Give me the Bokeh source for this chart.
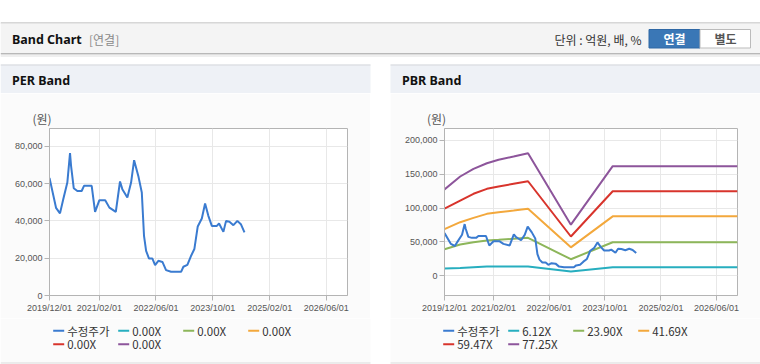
import pandas as pd
from bokeh.plotting import figure
from bokeh.models import (Range1d, FixedTicker, DatetimeTickFormatter, Spacer,
                          NumeralTickFormatter)
from bokeh.layouts import column, row
from bokeh.embed import file_html
from bokeh.resources import INLINE
from bokeh.core.properties import value

# ---------------- data ----------------
price_dates = ["2019-12-01", "2020-01-26", "2020-02-29", "2020-03-28", "2020-05-02", "2020-05-25",
               "2020-06-03", "2020-06-26", "2020-07-27", "2020-09-02", "2020-09-22", "2020-11-27",
               "2020-12-26", "2021-02-01", "2021-03-23", "2021-04-28", "2021-06-22", "2021-07-28",
               "2021-08-17", "2021-09-29", "2021-10-31", "2021-11-26", "2022-01-01", "2022-01-31",
               "2022-02-19", "2022-03-09", "2022-04-03", "2022-05-02", "2022-05-25", "2022-06-22",
               "2022-07-27", "2022-08-27", "2022-10-09", "2023-01-03", "2023-01-23", "2023-02-26",
               "2023-03-27", "2023-04-27", "2023-05-26", "2023-06-30", "2023-07-28", "2023-08-25",
               "2023-09-24", "2023-11-06", "2023-11-25", "2024-01-01", "2024-01-24", "2024-02-22",
               "2024-03-27", "2024-04-30", "2024-05-30", "2024-06-30"]
price_values = [63000, 47000, 44000, 51600, 60500, 76300,
                69500, 57500, 56000, 56000, 58800, 58800,
                44800, 51100, 51100, 47100, 44800, 61100,
                57000, 52500, 60500, 72500, 64100, 55200,
                32000, 23900, 19800, 19800, 16300, 18600,
                18000, 13600, 12700, 12700, 15400, 16400,
                20900, 24900, 37000, 41300, 49300, 42700,
                37300, 37300, 38600, 34100, 40000, 39500,
                37700, 40000, 38200, 33800]

band_dates = ["2019-12-01", "2020-04-16", "2020-08-10", "2020-12-05", "2021-03-17",
              "2021-07-26", "2021-11-29", "2022-12-08", "2023-12-08", "2026-12-01"]
pbr_band_labels = ["6.12X", "23.90X", "41.69X", "59.47X", "77.25X"]
pbr_band_1 = [11000, 11700, 12700, 13700, 13700, 13700, 13700, 6300, 12700, 12700]
pbr_band_2 = [39300, 46200, 49600, 52100, 53100, 54600, 56000, 24500, 49600, 49600]
pbr_band_3 = [69000, 79100, 85500, 91400, 93800, 96300, 98800, 42000, 87700, 87700]
pbr_band_4 = [99000, 111000, 121000, 128300, 131700, 135700, 139500, 58000, 124800, 124800]
pbr_band_5 = [127500, 146500, 157800, 166100, 171100, 176000, 180900, 75500, 161700, 161700]
per_band_labels = ["0.00X", "0.00X", "0.00X", "0.00X", "0.00X"]

price_label = "수정주가"
unit_label = "(원)"
x_tick_dates = ["2019-12-01", "2021-02-01", "2022-06-01", "2023-10-01", "2025-02-01", "2026-06-01"]
x_start, x_end = "2019-12-01", "2026-12-01"
per_y_ticks = [0, 20000, 40000, 60000, 80000]
per_y_range = (0, 89500)
pbr_y_ticks = [0, 50000, 100000, 150000, 200000]
pbr_y_range = (-29000, 217300)

# ---------------- style ----------------
C_PRICE = "#3a7bd0"
BAND_COLORS = ["#27aebf", "#8db65a", "#f3a83c", "#d8342c", "#8d559b"]
KR = "Noto Sans CJK KR"
LAT = "Liberation Sans"
GRID = "#e8e8e8"
FRAME = "#b4b4b4"
PANEL_BG = "#fbfbfb"
PANELS = ((0, 370), (390, 760))

pd_dates = pd.to_datetime(price_dates)
b_dates = pd.to_datetime(band_dates)
ticks_ms = [pd.Timestamp(d).value / 1e6 for d in x_tick_dates]


def make_chart(left, right, yr, yticks, title_off):
    p = figure(width=370, height=225, x_axis_type="datetime",
               x_range=Range1d(pd.Timestamp(x_start), pd.Timestamp(x_end)),
               y_range=Range1d(*yr), output_backend="svg", toolbar_location=None,
               min_border_left=left, min_border_right=right, min_border_top=35,
               min_border_bottom=23, background_fill_color="white",
               border_fill_color=PANEL_BG, outline_line_color=FRAME,
               title=unit_label)
    p.title.align = "left"
    p.title.offset = title_off
    p.title.standoff = 3
    p.title.text_font = KR
    p.title.text_font_size = "12px"
    p.title.text_font_style = "normal"
    p.title.text_color = "#555555"
    p.xaxis.ticker = FixedTicker(ticks=ticks_ms)
    p.xaxis.formatter = DatetimeTickFormatter(days="%Y/%m/%d", months="%Y/%m/%d",
                                              years="%Y/%m/%d", strip_leading_zeros=False)
    p.yaxis.ticker = FixedTicker(ticks=yticks)
    p.yaxis.formatter = NumeralTickFormatter(format="0,0")
    for ax in (p.xaxis, p.yaxis):
        ax.axis_line_color = FRAME
        ax.major_tick_line_color = FRAME
        ax.major_tick_out = 5
        ax.major_tick_in = 0
        ax.minor_tick_out = 0
        ax.minor_tick_in = 0
        ax.major_label_text_font = LAT
        ax.major_label_text_font_size = "9px"
        ax.major_label_text_color = "#555555"
        ax.major_label_standoff = 2
    p.grid.grid_line_color = GRID
    return p


def deco_fig(h):
    f = figure(width=760, height=h, x_range=Range1d(0, 760), y_range=Range1d(h, 0),
               output_backend="svg", toolbar_location=None, min_border=0,
               x_axis_type=None, y_axis_type=None, outline_line_color=None,
               background_fill_color="white", border_fill_color="white")
    f.xgrid.visible = False
    f.ygrid.visible = False
    return f


def box(fig, l, r_, t, b, fill, line=None):
    fig.quad(left=[l], right=[r_], top=[t], bottom=[b], fill_color=fill,
             line_color=line, line_width=1)


# PER chart
per = make_chart(49, 23, per_y_range, per_y_ticks, -17)
per.line(pd_dates, price_values, line_color=C_PRICE, line_width=2)

# PBR chart
pbr = make_chart(54, 23, pbr_y_range, pbr_y_ticks, -17.5)
for vals, col in zip([pbr_band_1, pbr_band_2, pbr_band_3, pbr_band_4, pbr_band_5], BAND_COLORS):
    pbr.line(b_dates, vals, line_color=col, line_width=2)
pbr.line(pd_dates, price_values, line_color=C_PRICE, line_width=2)

# Header (page decoration)
hdr = deco_fig(93)
box(hdr, 0, 760, 22, 23, "#b0b0b0")
box(hdr, 0, 760, 23, 52.5, "#f4f4f4")
box(hdr, 0, 760, 52.5, 53.5, "#b8b8b8")
box(hdr, 0, 760, 53.5, 55, "#dddddd")
box(hdr, 0, 760, 55, 56.5, "#efefef")
for l, r_ in PANELS:
    box(hdr, l, r_, 64, 93, "#eef1f6")
    box(hdr, l, r_, 64, 65, "#d6d8dc")
box(hdr, 648.5, 699.5, 29, 47.5, "#3a77b6", "#2f68a5")
box(hdr, 699.5, 750, 29, 47.5, "#ffffff", "#bbbbbb")


def txt(x, y, s, size, color, font, bold=False, align="left"):
    hdr.text(x=[x], y=[y], text=[s], text_font=value(font), text_font_size=size,
             text_color=color, text_font_style="bold" if bold else "normal",
             text_baseline="middle", text_align=align)


txt(11.5, 38.5, "Band Chart", "12.5px", "#111111", "Noto Sans", bold=True)
txt(88.5, 38.5, "[연결]", "12px", "#8a8a8a", KR)
txt(641, 38.5, "단위 : 억원, 배, %", "12px", "#333333", KR, align="right")
txt(674, 38.3, "연결", "12px", "#ffffff", KR, bold=True, align="center")
txt(725, 38.3, "별도", "12px", "#555555", KR, bold=True, align="center")
txt(11.5, 80, "PER Band", "12.5px", "#111111", "Noto Sans", bold=True)
txt(401.5, 80, "PBR Band", "12.5px", "#111111", "Noto Sans", bold=True)

# Bottom strip: legends + panel bottom borders (pixel coordinates, y downwards)
bot = deco_fig(46)
for l, r_ in PANELS:
    box(bot, l, r_, 0, 44, PANEL_BG)
    box(bot, l, r_, 44, 45, "#d9d9d9")

for (pl, _), labels in zip(PANELS, ([price_label] + per_band_labels,
                                    [price_label] + pbr_band_labels)):
    colors = [C_PRICE] + BAND_COLORS
    n = len(labels)
    xs = [pl + 52.7 + 65 * (i % 4) for i in range(n)]
    ys = [12.3 + 13.4 * (i // 4) for i in range(n)]
    bot.segment(x0=xs, y0=ys, x1=[x + 11 for x in xs], y1=ys, line_color=colors, line_width=2)
    bot.text(x=[x + 14 for x in xs], y=ys, text=labels, text_font=value(KR),
             text_font_size="11.5px", text_color="#333333", text_baseline="middle",
             text_align="left")

layout = column(hdr,
                row(per, Spacer(width=20, height=225), pbr),
                bot)
open("out.html", "w").write(file_html(layout, INLINE))
